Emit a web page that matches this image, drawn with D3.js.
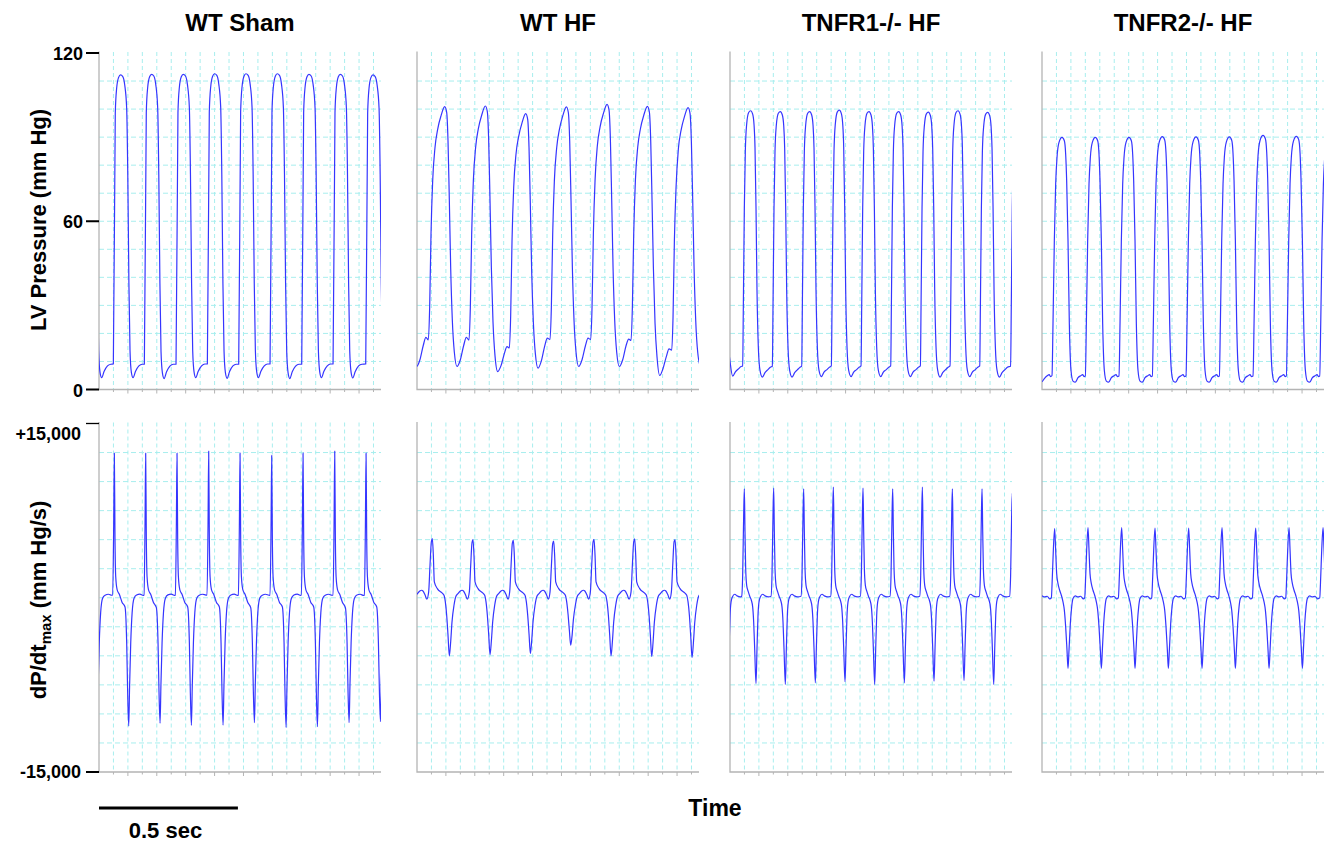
<!DOCTYPE html>
<html>
<head>
<meta charset="utf-8">
<script src="https://cdn.jsdelivr.net/npm/d3@7"></script>
<style>
  body { margin: 0; background: #fff; }
  svg { display: block; }
</style>
</head>
<body>
<svg id="chart" width="1333" height="844"></svg>
<script>
const fontFamily = "'Liberation Sans', Arial, Helvetica, sans-serif";

// Panel titles, axis ticks, time window
const groups = ["WT Sham", "WT HF", "TNFR1-/- HF", "TNFR2-/- HF"];
const pressureTicks = [0, 60, 120];
const dpdtTicks = [-15000, 15000];
const dpdtTickLabels = ["-15,000", "+15,000"];
const timeDomain = [0, 1015];     // ms shown in each panel
const gridStepMs = 52;
const scaleBarMs = 500;

// ---- LV pressure (mm Hg) ----
// offsets = ms after each upstroke onset; each beat row = [onset ms, values at those offsets...]
const shamPressureOffsets = [0, 7, 12, 19, 26, 34, 41, 48, 52, 56, 60, 65, 71, 80, 92, 104];
const shamPressureBeats = [
  [-61.4, 9.1, 98.8, 107.7, 111.5, 112.4, 111.8, 108.8, 100.5, 76.8, 38.0, 14.0, 6.2, 4.2, 6.5, 8.4, 9.0],
  [51.6, 9.1, 98.6, 107.5, 111.3, 112.2, 111.6, 108.6, 100.3, 76.8, 38.0, 14.0, 6.0, 4.2, 6.5, 8.4, 9.0],
  [163.2, 9.0, 98.8, 107.7, 111.5, 112.4, 111.8, 108.8, 100.5, 76.8, 38.0, 13.6, 5.9, 3.9, 6.3, 8.3, 9.0],
  [277.2, 9.0, 98.8, 107.7, 111.5, 112.4, 111.8, 108.8, 100.5, 76.8, 38.0, 14.0, 6.2, 4.2, 6.5, 8.4, 9.1],
  [390.0, 9.1, 99.0, 107.9, 111.7, 112.6, 112.0, 109.0, 100.7, 76.8, 38.0, 13.8, 6.0, 4.0, 6.4, 8.4, 9.0],
  [502.8, 9.0, 99.0, 107.9, 111.7, 112.6, 112.0, 109.0, 100.7, 76.8, 38.0, 14.0, 6.2, 4.2, 6.5, 8.4, 9.1],
  [615.6, 9.1, 99.0, 107.9, 111.7, 112.6, 112.0, 109.0, 100.7, 76.8, 38.0, 13.6, 5.9, 3.9, 6.3, 8.3, 9.0],
  [729.6, 9.0, 98.8, 107.7, 111.5, 112.4, 111.8, 108.8, 100.5, 76.8, 38.0, 14.0, 6.2, 4.2, 6.5, 8.4, 9.1],
  [842.4, 9.1, 98.8, 107.7, 111.5, 112.4, 111.8, 108.8, 100.5, 76.8, 38.0, 13.9, 6.1, 4.1, 6.4, 8.4, 9.0],
  [960.0, 9.1, 98.6, 107.5, 111.3, 112.2, 111.6, 108.6, 100.3, 76.8, 38.0, 14.0, 6.2, 4.2, 6.5, 8.4, 9.0]
];

const wtHfPressureOffsets = [0, 4.8, 9.6, 15.6, 24, 33.6, 45.6, 58.8, 66, 70.8, 75.6, 80.4, 86.4, 93.6, 103.2, 115.2, 127.2, 136.8];
const wtHfPressureBeats = [
  [-104.7, 17.7, 29.3, 55.4, 74.4, 86.3, 92.8, 97.6, 100.9, 98.8, 88.7, 67.3, 43.6, 24.6, 13.3, 8.2, 10.6, 15.7, 18.6],
  [40.8, 17.7, 29.3, 55.4, 74.4, 86.3, 92.8, 97.6, 100.9, 98.8, 88.7, 67.3, 43.6, 24.6, 13.3, 8.2, 10.6, 15.7, 18.6],
  [187.2, 17.6, 29.3, 55.4, 74.4, 86.5, 93.0, 97.8, 101.1, 99.0, 88.9, 67.3, 43.6, 24.0, 12.0, 6.4, 8.5, 12.8, 15.3],
  [332.4, 14.8, 26.5, 53.0, 72.0, 84.0, 90.3, 95.1, 98.4, 96.3, 86.2, 65.5, 42.0, 24.0, 12.8, 7.6, 10.2, 15.5, 18.3],
  [478.8, 17.8, 29.3, 55.4, 74.4, 86.2, 92.7, 97.5, 100.8, 98.7, 88.6, 67.3, 43.6, 24.6, 13.3, 8.2, 10.6, 15.5, 18.3],
  [625.2, 17.8, 29.3, 55.4, 74.4, 87.0, 93.6, 98.4, 101.7, 99.6, 89.5, 67.5, 43.6, 24.6, 13.3, 8.2, 10.6, 15.6, 18.0],
  [770.4, 17.5, 29.3, 55.4, 74.4, 86.4, 92.9, 97.7, 101.0, 98.9, 88.8, 67.3, 43.6, 23.5, 11.5, 5.0, 7.5, 11.8, 14.5],
  [916.8, 14.0, 26.0, 53.0, 72.0, 85.9, 92.4, 97.2, 100.5, 98.4, 88.3, 67.3, 43.6, 24.6, 13.3, 8.5, 10.6, 15.7, 18.6]
];

const tnfr1PressureOffsets = [0, 2.4, 6, 9.6, 14.4, 21.6, 28.8, 36, 40.8, 44.4, 48, 51.6, 56.4, 62.4, 70.8, 80.4, 90, 100.8];
const tnfr1PressureBeats = [
  [-61.0, 8.5, 29.3, 64.9, 85.1, 94.6, 98.8, 99.4, 98.2, 94.6, 86.3, 64.9, 35.3, 15.1, 9.0, 4.8, 6.3, 7.2, 8.2],
  [45.6, 8.4, 29.3, 64.9, 85.1, 94.6, 98.8, 99.4, 98.2, 94.6, 86.3, 64.9, 35.3, 15.1, 6.8, 4.4, 6.0, 7.0, 8.0],
  [152.4, 8.3, 29.3, 64.9, 85.0, 94.3, 98.5, 99.1, 97.9, 94.3, 86.0, 64.9, 35.3, 15.1, 6.8, 4.4, 6.0, 7.0, 8.0],
  [258.0, 8.3, 29.3, 64.9, 85.0, 94.3, 98.5, 99.1, 97.9, 94.3, 86.0, 64.9, 35.3, 15.1, 6.8, 4.6, 6.2, 7.0, 8.0],
  [364.8, 8.4, 29.3, 64.9, 85.2, 94.8, 99.0, 99.6, 98.4, 94.8, 86.5, 64.9, 35.3, 15.1, 6.8, 4.6, 6.2, 7.0, 8.0],
  [471.6, 8.4, 29.3, 64.9, 85.0, 94.3, 98.5, 99.1, 97.9, 94.3, 86.0, 64.9, 35.3, 15.1, 6.8, 4.6, 6.2, 7.0, 8.0],
  [578.4, 8.4, 29.3, 64.9, 85.0, 94.3, 98.5, 99.1, 97.9, 94.3, 86.0, 64.9, 35.3, 15.1, 6.8, 4.6, 6.2, 7.0, 8.0],
  [685.2, 8.4, 29.3, 64.9, 84.9, 94.1, 98.3, 98.9, 97.7, 94.1, 85.8, 64.9, 35.3, 15.1, 6.8, 4.4, 6.0, 7.0, 8.0],
  [792.0, 8.4, 29.3, 64.9, 85.1, 94.6, 98.8, 99.4, 98.2, 94.6, 86.3, 64.9, 35.3, 15.1, 6.8, 4.6, 6.2, 7.0, 8.0],
  [898.8, 8.4, 29.3, 64.9, 84.9, 94.0, 98.2, 98.8, 97.6, 94.0, 85.7, 64.9, 35.3, 15.1, 6.8, 4.4, 6.0, 7.0, 8.0],
  [1010.0, 8.3, 29.3, 64.9, 85.1, 94.6, 98.8, 99.4, 98.2, 94.6, 86.3, 64.9, 35.3, 15.1, 6.8, 4.6, 6.2, 7.0, 8.0]
];

const tnfr2PressureOffsets = [0, 3.6, 8.4, 13.2, 18, 25.2, 36, 44.4, 49.2, 52.8, 57.6, 62.4, 68.4, 75.6, 84, 93.6, 103.2, 110.4, 115.2];
const tnfr2PressureBeats = [
  [-84.5, 5.0, 23.4, 53.1, 73.2, 82.7, 88.1, 89.9, 88.7, 83.9, 74.4, 53.1, 23.4, 6.8, 3.0, 2.8, 4.0, 4.9, 5.3, 4.6],
  [36.0, 5.0, 23.4, 53.1, 73.2, 82.7, 88.1, 89.9, 88.7, 83.9, 74.4, 53.1, 23.4, 6.8, 3.0, 2.6, 4.2, 4.9, 5.3, 4.6],
  [156.0, 4.8, 23.4, 53.1, 73.2, 82.7, 88.1, 89.9, 88.7, 83.9, 74.4, 53.1, 23.4, 6.8, 3.0, 2.6, 4.2, 4.9, 5.3, 4.6],
  [277.2, 4.8, 23.4, 53.1, 73.2, 82.7, 88.1, 89.9, 88.7, 83.9, 74.4, 53.1, 23.4, 6.8, 3.0, 2.6, 4.2, 4.9, 5.3, 4.6],
  [397.2, 4.8, 23.4, 53.1, 73.4, 83.0, 88.4, 90.2, 89.0, 84.2, 74.6, 53.1, 23.4, 6.8, 3.0, 2.6, 4.2, 4.9, 5.3, 4.6],
  [518.4, 4.8, 23.4, 53.1, 73.3, 82.9, 88.3, 90.1, 88.9, 84.1, 74.5, 53.1, 23.4, 6.8, 3.0, 2.6, 4.2, 4.9, 5.3, 4.6],
  [638.4, 4.8, 23.4, 53.1, 73.3, 82.9, 88.3, 90.1, 88.9, 84.1, 74.5, 53.1, 23.4, 6.8, 3.0, 2.6, 4.2, 4.9, 5.3, 4.6],
  [759.6, 4.8, 23.4, 53.1, 73.6, 83.4, 88.8, 90.6, 89.4, 84.6, 74.8, 53.1, 23.4, 6.8, 3.0, 2.6, 4.2, 4.9, 5.3, 4.6],
  [879.6, 4.8, 23.4, 53.1, 73.4, 83.1, 88.5, 90.3, 89.1, 84.3, 74.6, 53.1, 23.4, 6.8, 3.0, 2.6, 4.2, 4.9, 5.3, 4.6],
  [999.6, 4.8, 23.4, 53.1, 73.2, 82.8, 88.2, 90.0, 88.8, 84.0, 74.4, 53.1, 23.4, 6.8, 3.0, 2.6, 4.2, 4.9, 5.3, 4.6]
];

// ---- dP/dt (mm Hg/s) ----
// offsets = ms relative to each positive dP/dt peak; rows = [peak time ms, values...]
const shamDpdtOffsets = [-6, -2.4, 0, 2.4, 5, 10, 18, 28, 38.5, 44.5, 48, 51.8, 55, 59, 64, 71, 80, 92, 104];
const shamDpdtBeats = [
  [-58.1, 215, 6090, 12450, 5000, 1800, 700, 300, -400, -800, -3900, -8200, -11000, -7500, -3900, -1300, -40, 215, 300, 215],
  [55.2, 215, 6090, 12450, 5000, 1800, 700, 300, -400, -800, -3900, -8200, -11040, -7500, -3900, -1300, -40, 230, 310, 200],
  [168.0, 230, 6090, 12450, 5000, 1800, 700, 300, -400, -850, -3900, -8100, -10800, -7400, -3900, -1300, -40, 250, 320, 200],
  [280.8, 215, 6090, 12450, 5000, 1800, 700, 300, -400, -800, -3900, -8200, -10980, -7500, -3900, -1300, -40, 215, 300, 230],
  [394.8, 220, 6150, 12620, 5050, 1800, 700, 300, -400, -800, -3900, -8200, -10960, -7500, -3900, -1300, -40, 240, 310, 200],
  [507.6, 215, 6090, 12450, 5000, 1800, 700, 300, -400, -850, -3900, -8100, -10750, -7400, -3900, -1300, -40, 215, 300, 215],
  [621.6, 210, 6000, 12250, 4950, 1800, 700, 300, -400, -800, -3900, -8300, -11160, -7600, -3900, -1300, -40, 230, 320, 210],
  [734.4, 215, 6090, 12450, 5000, 1800, 700, 300, -400, -800, -3900, -8250, -11100, -7550, -3900, -1300, -40, 215, 300, 215],
  [848.4, 220, 6150, 12620, 5050, 1800, 700, 300, -400, -850, -3900, -8100, -10750, -7400, -3900, -1300, -40, 240, 300, 200],
  [961.2, 215, 6090, 12450, 5000, 1800, 700, 300, -400, -800, -3900, -8000, -10670, -7300, -3900, -1300, -40, 215, 300, 215]
];

const wtHfDpdtOffsets = [-13.2, -8.4, -3.6, 0, 3.6, 7.2, 18, 34.8, 42, 46.8, 51.6, 56.4, 61.2, 66, 70.8, 78, 84, 92.4, 100.8, 106.8, 112.8, 120, 126];
const wtHfDpdtBeats = [
  [-90.6, 500, 2790, 4800, 5000, 3650, 1360, 790, 415, 215, -360, -1500, -3220, -5000, -3800, -2080, -645, 70, 360, 590, 645, 560, 215, -130],
  [55.2, 500, 2790, 4800, 5085, 3650, 1360, 790, 415, 215, -360, -1500, -3220, -5000, -3800, -2080, -645, 70, 360, 590, 645, 560, 215, -130],
  [201.6, 500, 2750, 4750, 5000, 3600, 1360, 790, 415, 215, -360, -1500, -3150, -4890, -3750, -2080, -645, 70, 360, 590, 645, 560, 215, -130],
  [346.8, 500, 2700, 4700, 4940, 3600, 1360, 790, 415, 215, -360, -1500, -3100, -4800, -3700, -2080, -645, 70, 360, 590, 645, 560, 215, -130],
  [492.0, 500, 2680, 4650, 4880, 3550, 1360, 790, 415, 215, -360, -1400, -2800, -4080, -3300, -1900, -645, 70, 360, 590, 645, 560, 215, -130],
  [637.2, 500, 2790, 4780, 5030, 3650, 1360, 790, 415, 215, -360, -1500, -3220, -5000, -3800, -2080, -645, 70, 360, 590, 645, 560, 215, -130],
  [783.6, 500, 2800, 4820, 5060, 3650, 1360, 790, 415, 215, -360, -1500, -3250, -5060, -3850, -2100, -645, 70, 360, 590, 645, 560, 215, -130],
  [928.8, 500, 2790, 4800, 5000, 3650, 1360, 790, 415, 215, -360, -1500, -3300, -5140, -3900, -2150, -645, 70, 360, 590, 645, 560, 215, -130]
];

const tnfr1DpdtOffsets = [-9.6, -6, -2.4, 0, 2.4, 4.8, 8.4, 14.4, 20.4, 25.2, 30, 33.6, 37.2, 42, 45.6, 49.2, 52.8, 57.6, 66, 74.4, 86.4];
const tnfr1DpdtBeats = [
  [-49.0, 130, 1930, 7090, 9380, 5660, 2510, 1070, 500, 70, -215, -790, -2080, -4370, -7300, -4370, -1500, -360, 70, 300, 160, 70],
  [51.6, 130, 1930, 7090, 9380, 5660, 2510, 1070, 500, 70, -215, -790, -2080, -4370, -7380, -4370, -1500, -360, 70, 300, 160, 70],
  [157.2, 130, 1950, 7130, 9440, 5700, 2510, 1070, 500, 70, -215, -790, -2080, -4400, -7460, -4400, -1500, -360, 70, 300, 160, 70],
  [265.2, 130, 1930, 7090, 9380, 5660, 2510, 1070, 500, 70, -215, -790, -2080, -4370, -7320, -4370, -1500, -360, 70, 300, 160, 70],
  [372.0, 130, 1960, 7200, 9530, 5740, 2510, 1070, 500, 70, -215, -790, -2080, -4320, -7230, -4320, -1500, -360, 70, 300, 160, 70],
  [478.8, 130, 1950, 7130, 9440, 5700, 2510, 1070, 500, 70, -215, -790, -2080, -4400, -7460, -4400, -1500, -360, 70, 300, 160, 70],
  [585.6, 130, 1930, 7090, 9380, 5660, 2510, 1070, 500, 70, -215, -790, -2080, -4370, -7320, -4370, -1500, -360, 70, 300, 160, 70],
  [692.4, 130, 1960, 7200, 9530, 5740, 2510, 1070, 500, 70, -215, -790, -2080, -4300, -7180, -4300, -1500, -360, 70, 300, 160, 70],
  [800.4, 130, 1930, 7090, 9380, 5660, 2510, 1070, 500, 70, -215, -790, -2080, -4270, -7120, -4270, -1500, -360, 70, 300, 160, 70],
  [907.2, 130, 1930, 7090, 9380, 5660, 2510, 1070, 500, 70, -215, -790, -2080, -4400, -7460, -4400, -1500, -360, 70, 300, 160, 70],
  [1016.0, 130, 1900, 6900, 9000, 5500, 2510, 1070, 500, 70, -215, -790, -2080, -4370, -7300, -4370, -1500, -360, 70, 300, 160, 70]
];

const tnfr2DpdtOffsets = [-12, -8.4, -4.8, 0, 3.6, 7.2, 12, 18, 24, 30, 34.8, 39.6, 44.4, 48, 51.6, 56.4, 61.2, 66, 74.4, 84, 93.6, 103.2];
const tnfr2DpdtBeats = [
  [-75.0, -15, 1790, 4080, 6000, 4080, 2080, 1220, 645, 215, -360, -1070, -2510, -4510, -6090, -4510, -2220, -790, -70, 160, 70, 130, -100],
  [45.6, -15, 1790, 4080, 5950, 4080, 2080, 1220, 645, 215, -360, -1070, -2510, -4510, -6090, -4510, -2220, -790, -70, 160, 70, 130, -100],
  [165.6, -15, 1800, 4120, 6030, 4120, 2080, 1220, 645, 215, -360, -1070, -2510, -4510, -6090, -4510, -2220, -790, -70, 160, 70, 130, -100],
  [286.8, -15, 1800, 4120, 6030, 4120, 2080, 1220, 645, 215, -360, -1070, -2510, -4510, -6090, -4510, -2220, -790, -70, 160, 70, 130, -100],
  [406.8, -15, 1790, 4100, 6000, 4100, 2080, 1220, 645, 215, -360, -1070, -2510, -4510, -6090, -4510, -2220, -790, -70, 160, 70, 130, -100],
  [528.0, -15, 1790, 4100, 6000, 4100, 2080, 1220, 645, 215, -360, -1070, -2510, -4510, -6090, -4510, -2220, -790, -70, 160, 70, 130, -100],
  [648.0, -15, 1800, 4120, 6030, 4120, 2080, 1220, 645, 215, -360, -1070, -2510, -4510, -6090, -4510, -2220, -790, -70, 160, 70, 130, -100],
  [769.2, -15, 1790, 4100, 6000, 4100, 2080, 1220, 645, 215, -360, -1070, -2510, -4510, -6090, -4510, -2220, -790, -70, 160, 70, 130, -100],
  [889.2, -15, 1800, 4120, 6030, 4120, 2080, 1220, 645, 215, -360, -1070, -2510, -4510, -6090, -4510, -2220, -790, -70, 160, 70, 130, -100],
  [1011.6, -15, 1800, 4120, 6030, 4120, 2080, 1220, 645, 215, -360, -1070, -2510, -4510, -6090, -4510, -2220, -790, -70, 160, 70, 130, -100]
];

const pressureSeries = [
  [shamPressureOffsets, shamPressureBeats],
  [wtHfPressureOffsets, wtHfPressureBeats],
  [tnfr1PressureOffsets, tnfr1PressureBeats],
  [tnfr2PressureOffsets, tnfr2PressureBeats]
];
const dpdtSeries = [
  [shamDpdtOffsets, shamDpdtBeats],
  [wtHfDpdtOffsets, wtHfDpdtBeats],
  [tnfr1DpdtOffsets, tnfr1DpdtBeats],
  [tnfr2DpdtOffsets, tnfr2DpdtBeats]
];

// turn beat rows into [time, value] points
function expandBeats(offsets, beats) {
  return beats
    .flatMap(([t0, ...vals]) => offsets.map((o, i) => [t0 + o, vals[i]]))
    .sort((a, b) => a[0] - b[0]);
}

// Layout
const svg = d3.select("#chart");
const panelLeft = [99, 417, 730, 1042];
const panelWidth = 282;
const gridColor = "#a8eeee";
const axisColor = "#b4b4b4";
const traceColor = "#3535ff";

const x = d3.scaleLinear().domain(timeDomain).range([0, panelWidth]);

const rows = [
  { y: d3.scaleLinear().domain([0, 120]).range([389.5, 53]), step: 10, series: pressureSeries },
  { y: d3.scaleLinear().domain([-15000, 15000]).range([772, 423.5]), step: 2500, series: dpdtSeries }
];

svg.append("defs").append("clipPath")
  .attr("id", "panelClip")
  .append("rect")
  .attr("x", 0).attr("y", 0)
  .attr("width", panelWidth).attr("height", 844);

const vGrid = d3.range(gridStepMs, timeDomain[1], gridStepMs);

rows.forEach(row => {
  const y = row.y;
  const [yBottom, yTop] = y.range();
  const hGrid = d3.range(y.domain()[0] + row.step, y.domain()[1] - 1e-6, row.step);
  const line = d3.line()
    .x(d => x(d[0]))
    .y(d => y(d[1]))
    .curve(d3.curveMonotoneX);

  row.series.forEach(([offsets, beats], i) => {
    const g = svg.append("g").attr("transform", `translate(${panelLeft[i]},0)`);

    // dashed grid
    g.selectAll("line.vgrid")
      .data(vGrid)
      .enter().append("line")
      .attr("class", "vgrid")
      .attr("x1", d => x(d)).attr("x2", d => x(d))
      .attr("y1", yTop - 1).attr("y2", yBottom)
      .attr("stroke", gridColor)
      .attr("stroke-width", 1)
      .attr("stroke-dasharray", "4,3");

    g.selectAll("line.hgrid")
      .data(hGrid)
      .enter().append("line")
      .attr("class", "hgrid")
      .attr("x1", 0).attr("x2", panelWidth)
      .attr("y1", d => y(d)).attr("y2", d => y(d))
      .attr("stroke", gridColor)
      .attr("stroke-width", 1)
      .attr("stroke-dasharray", "5,3");

    // small ticks under the time axis
    g.selectAll("line.xtick")
      .data(vGrid)
      .enter().append("line")
      .attr("class", "xtick")
      .attr("x1", d => x(d)).attr("x2", d => x(d))
      .attr("y1", yBottom)
      .attr("y2", (d, k) => yBottom + (k % 2 ? 4 : 2.5))
      .attr("stroke", axisColor)
      .attr("stroke-width", 1);

    // axis frame (left + bottom)
    g.append("path")
      .attr("d", `M0,${yTop - 1.5}V${yBottom}H${panelWidth}`)
      .attr("fill", "none")
      .attr("stroke", axisColor)
      .attr("stroke-width", 1.3);

    // trace
    g.append("path")
      .datum(expandBeats(offsets, beats))
      .attr("clip-path", "url(#panelClip)")
      .attr("d", line)
      .attr("fill", "none")
      .attr("stroke", traceColor)
      .attr("stroke-width", 1.2)
      .attr("stroke-linejoin", "round");
  });
});

// Left axis ticks and labels (first column only)
const tickG = svg.append("g").attr("transform", `translate(${panelLeft[0]},0)`);

tickG.selectAll("line.ptick")
  .data(pressureTicks)
  .enter().append("line")
  .attr("x1", -13).attr("x2", 0)
  .attr("y1", d => rows[0].y(d)).attr("y2", d => rows[0].y(d))
  .attr("stroke", "#000")
  .attr("stroke-width", 2);

tickG.selectAll("text.ptick")
  .data(pressureTicks)
  .enter().append("text")
  .attr("x", -16)
  .attr("y", d => rows[0].y(d) + 1)
  .attr("text-anchor", "end")
  .attr("dominant-baseline", "central")
  .attr("font-family", fontFamily)
  .attr("font-size", "18px")
  .attr("font-weight", "700")
  .text(d => d);

tickG.selectAll("line.dtick")
  .data(dpdtTicks)
  .enter().append("line")
  .attr("x1", -13).attr("x2", 0)
  .attr("y1", d => rows[1].y(d)).attr("y2", d => rows[1].y(d))
  .attr("stroke", "#000")
  .attr("stroke-width", (d, k) => k ? 1.3 : 2);

tickG.selectAll("text.dtick")
  .data(dpdtTicks)
  .enter().append("text")
  .attr("x", -18)
  .attr("y", d => rows[1].y(d) + (d > 0 ? 10 : 0))
  .attr("text-anchor", "end")
  .attr("dominant-baseline", "central")
  .attr("font-family", fontFamily)
  .attr("font-size", "18px")
  .attr("font-weight", "700")
  .text((d, k) => dpdtTickLabels[k]);

// Panel titles
svg.selectAll("text.title")
  .data(groups)
  .enter().append("text")
  .attr("class", "title")
  .attr("x", (d, i) => panelLeft[i] + panelWidth / 2)
  .attr("y", 22)
  .attr("text-anchor", "middle")
  .attr("dominant-baseline", "central")
  .attr("font-family", fontFamily)
  .attr("font-size", "24px")
  .attr("font-weight", "700")
  .text(d => d);

// Y axis titles
svg.append("text")
  .attr("transform", "translate(46,220) rotate(-90)")
  .attr("text-anchor", "middle")
  .attr("font-family", fontFamily)
  .attr("font-size", "22px")
  .attr("font-weight", "700")
  .text("LV Pressure (mm Hg)");

const dpLabel = svg.append("text")
  .attr("transform", "translate(46,600) rotate(-90)")
  .attr("text-anchor", "middle")
  .attr("font-family", fontFamily)
  .attr("font-size", "22px")
  .attr("font-weight", "700");
dpLabel.append("tspan").text("dP/dt");
dpLabel.append("tspan").attr("font-size", "15px").attr("dy", 5).text("max");
dpLabel.append("tspan").attr("dy", -5).text(" (mm Hg/s)");

// Time label
svg.append("text")
  .attr("x", 715)
  .attr("y", 808)
  .attr("text-anchor", "middle")
  .attr("dominant-baseline", "central")
  .attr("font-family", fontFamily)
  .attr("font-size", "23px")
  .attr("font-weight", "700")
  .text("Time");

// Scale bar
svg.append("line")
  .attr("x1", panelLeft[0] + x(0))
  .attr("x2", panelLeft[0] + x(scaleBarMs))
  .attr("y1", 808).attr("y2", 808)
  .attr("stroke", "#000")
  .attr("stroke-width", 3);

svg.append("text")
  .attr("x", panelLeft[0] + x(scaleBarMs / 2) - 3)
  .attr("y", 830)
  .attr("text-anchor", "middle")
  .attr("dominant-baseline", "central")
  .attr("font-family", fontFamily)
  .attr("font-size", "22px")
  .attr("font-weight", "700")
  .text("0.5 sec");
</script>
</body>
</html>
